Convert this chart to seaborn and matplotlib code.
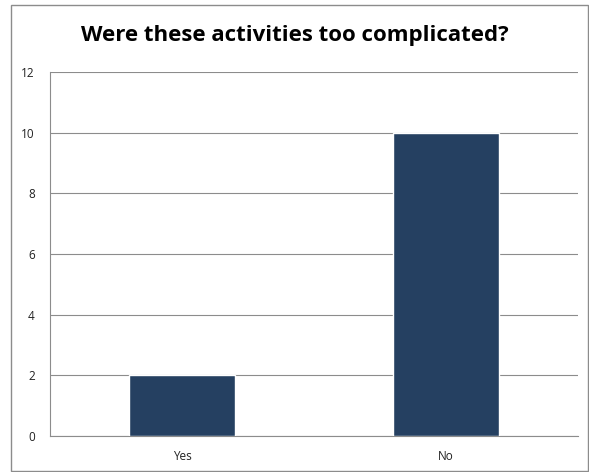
import matplotlib
matplotlib.use("Agg")
import matplotlib.pyplot as plt
import seaborn as sns
import pandas as pd
from matplotlib.patches import Rectangle

answers = ["Yes", "No"]
counts = [2, 10]
y_ticks = [0, 2, 4, 6, 8, 10, 12]

sns.set_theme(style="white")
plt.rcParams["font.family"] = ["Open Sans", "DejaVu Sans"]

df = pd.DataFrame({"answer": answers, "count": counts})

fig = plt.figure(figsize=(5.89, 4.72), dpi=100)
ax = fig.add_axes([50 / 589, 1 - 436 / 472, 528 / 589, 364 / 472])

sns.barplot(data=df, x="answer", y="count", color="#254061", saturation=1,
            width=0.4, ax=ax, zorder=3)

ax.set_ylim(0, 12)
ax.set_yticks(y_ticks)
ax.set_yticklabels([str(v) for v in y_ticks], fontsize=8.5, color="#222222")
for lbl in ax.get_xticklabels():
    lbl.set_fontsize(8.5)
    lbl.set_color("#222222")
ax.tick_params(axis="x", length=0, pad=10)
ax.tick_params(axis="y", length=0, pad=11)
ax.yaxis.grid(True, color="#8c8c8c", linewidth=0.8, zorder=0)
ax.set_xlabel("")
ax.set_ylabel("")
for side in ["top", "right"]:
    ax.spines[side].set_visible(False)
ax.spines["left"].set_color("#8c8c8c")
ax.spines["left"].set_linewidth(0.8)
ax.spines["bottom"].set_color("#8c8c8c")
ax.spines["bottom"].set_linewidth(0.8)

fig.text(295 / 589, 1 - 36 / 472, "Were these activities too complicated?",
         ha="center", va="center", fontsize=16, fontweight="bold", color="black")

fig.patches.append(Rectangle((11 / 589, 1 / 472), 577 / 589, 466 / 472,
                             transform=fig.transFigure, fill=False,
                             edgecolor="#8c8c8c", linewidth=1))

fig.savefig("out.png", dpi=100)
